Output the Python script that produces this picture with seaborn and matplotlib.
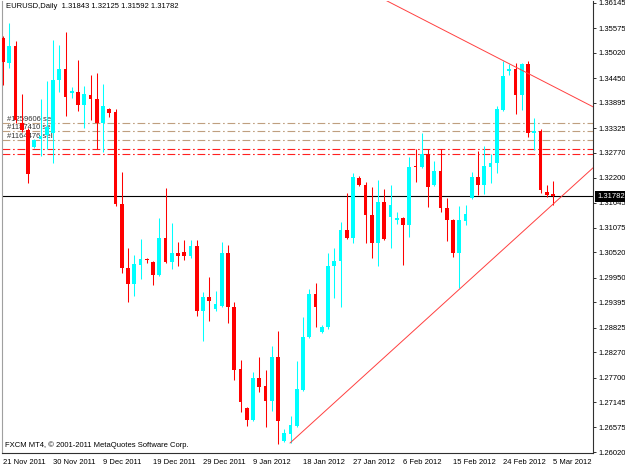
import numpy as np
import pandas as pd
import matplotlib
matplotlib.use("Agg")
import matplotlib.pyplot as plt
import matplotlib.transforms as mtransforms
import seaborn as sns

# daily EURUSD bars, bar 0 = 21 Nov 2011 (FXCM feed, sunday bars included)
opens = [1.3536, 1.3479, 1.3518, 1.3344, 1.3328, 1.3290, 1.3308, 1.3317, 1.3321, 1.3441,
         1.3466, 1.3412, 1.3414, 1.3385, 1.3407, 1.3398, 1.3344, 1.3375, 1.3369, 1.3161,
         1.3017, 1.2981, 1.3024, 1.3036, 1.3031, 1.3001, 1.3085, 1.3031, 1.3051, 1.3053,
         1.3044, 1.3067, 1.2920, 1.2952, 1.2924, 1.2931, 1.3051, 1.2929, 1.2789, 1.2701,
         1.2674, 1.2769, 1.2751, 1.2717, 1.2816, 1.2627, 1.2643, 1.2661, 1.2742, 1.2861,
         1.2958, 1.2873, 1.2884, 1.3021, 1.3033, 1.3103, 1.3085, 1.3220, 1.3204, 1.3136,
         1.3073, 1.3166, 1.3132, 1.3125, 1.3129, 1.3114, 1.3247, 1.3245, 1.3274, 1.3204,
         1.3236, 1.3152, 1.3125, 1.3051, 1.3123, 1.3175, 1.3222, 1.3204, 1.3245, 1.3254,
         1.3373, 1.3461, 1.3466, 1.3407, 1.3477, 1.3321, 1.3326, 1.3188, 1.31843]
highs = [1.3540, 1.3569, 1.3529, 1.3409, 1.3333, 1.3308, 1.3398, 1.3439, 1.3531, 1.3520,
         1.3549, 1.3425, 1.3486, 1.3427, 1.3452, 1.3457, 1.3432, 1.3378, 1.3375, 1.3233,
         1.3062, 1.3046, 1.3082, 1.3040, 1.3033, 1.3130, 1.3197, 1.3118, 1.3076, 1.3080,
         1.3080, 1.3080, 1.2963, 1.2997, 1.2966, 1.3076, 1.3069, 1.2940, 1.2810, 1.2703,
         1.2782, 1.2816, 1.2787, 1.2841, 1.2875, 1.2654, 1.2683, 1.2807, 1.2906, 1.2969,
         1.2983, 1.2888, 1.3051, 1.3062, 1.3121, 1.3186, 1.3231, 1.3224, 1.3211, 1.3200,
         1.3215, 1.3195, 1.3204, 1.3143, 1.3131, 1.3267, 1.3285, 1.3321, 1.3285, 1.3258,
         1.3285, 1.3175, 1.3127, 1.3157, 1.3159, 1.3233, 1.3281, 1.3292, 1.3274, 1.3382,
         1.3484, 1.3477, 1.3479, 1.3479, 1.3484, 1.3355, 1.3330, 1.3204, 1.32125]
lows = [1.3430, 1.3468, 1.3344, 1.3324, 1.3209, 1.3288, 1.3270, 1.3285, 1.3254, 1.3414,
        1.3360, 1.3400, 1.3371, 1.3333, 1.3351, 1.3285, 1.3279, 1.3357, 1.3157, 1.3006,
        1.2940, 1.2954, 1.2992, 1.3028, 1.2979, 1.2999, 1.3029, 1.3015, 1.3021, 1.3035,
        1.3040, 1.2909, 1.2852, 1.2897, 1.2920, 1.2929, 1.2893, 1.2764, 1.2692, 1.2661,
        1.2672, 1.2737, 1.2658, 1.2694, 1.2620, 1.2624, 1.2622, 1.2659, 1.2740, 1.2859,
        1.2884, 1.2871, 1.2880, 1.2949, 1.2929, 1.3083, 1.3073, 1.3202, 1.3073, 1.3040,
        1.3021, 1.3080, 1.3062, 1.3116, 1.3024, 1.3087, 1.3211, 1.3243, 1.3154, 1.3202,
        1.3143, 1.3078, 1.3042, 1.2972, 1.3114, 1.3173, 1.3182, 1.3184, 1.3209, 1.3231,
        1.3371, 1.3452, 1.3364, 1.3373, 1.3312, 1.3283, 1.3186, 1.3177, 1.31592]
closes = [1.3481, 1.3518, 1.3351, 1.3328, 1.3229, 1.3306, 1.3315, 1.3335, 1.3441, 1.3466,
          1.3403, 1.3416, 1.3385, 1.3409, 1.3398, 1.3344, 1.3382, 1.3366, 1.3161, 1.3017,
          1.2981, 1.3026, 1.3037, 1.3034, 1.3001, 1.3085, 1.3031, 1.3051, 1.3044, 1.3044,
          1.3067, 1.2920, 1.2952, 1.2943, 1.2936, 1.3051, 1.2929, 1.2787, 1.2715, 1.2674,
          1.2769, 1.2749, 1.2717, 1.2816, 1.2672, 1.2645, 1.2663, 1.2744, 1.2861, 1.2958,
          1.2929, 1.2884, 1.3021, 1.3033, 1.3103, 1.3085, 1.3222, 1.3204, 1.3136, 1.3073,
          1.3166, 1.3082, 1.3159, 1.3129, 1.3114, 1.3245, 1.3244, 1.3274, 1.3200, 1.3236,
          1.3152, 1.3125, 1.3051, 1.3125, 1.3139, 1.3222, 1.3204, 1.3247, 1.3254, 1.3375,
          1.3450, 1.3466, 1.3407, 1.3477, 1.3321, 1.3326, 1.3193, 1.3182, 1.31782]

date_ticks = [0, 8, 16, 24, 32, 40, 48, 56, 64, 72, 80, 88]
date_labels = ["21 Nov 2011", "30 Nov 2011", "9 Dec 2011", "19 Dec 2011", "29 Dec 2011",
               "9 Jan 2012", "18 Jan 2012", "27 Jan 2012", "6 Feb 2012", "15 Feb 2012",
               "24 Feb 2012", "5 Mar 2012"]
price_ticks = [1.36145, 1.35575, 1.35020, 1.34450, 1.33895, 1.33325, 1.32770, 1.32200,
               1.31645, 1.31075, 1.30520, 1.29950, 1.29395, 1.28825, 1.28270, 1.27700,
               1.27145, 1.26575, 1.26020]

# open orders and their stop lines
order_names = ["#1259606 sell", "#1187410 sell", "#1164476 sell"]
order_prices = [1.33428, 1.33248, 1.33045]
stop_prices = [1.32853, 1.32740]
bid = 1.31782

# trend lines, two anchors each (bar, price)
down_bars = [73.6, 90.72]
down_prices = [1.35311, 1.34071]
up_bars = [45.92, 85.92]
up_prices = [1.26223, 1.31342]

header = "EURUSD,Daily  1.31843 1.32125 1.31592 1.31782"
footer = "FXCM MT4, \u00a9 2001-2011 MetaQuotes Software Corp."

sns.set_style("white")
plt.rcParams['font.family'] = ['Liberation Sans', 'DejaVu Sans']
fs = 5.5

df = pd.DataFrame({'open': opens, 'high': highs, 'low': lows, 'close': closes})
df['bar'] = np.arange(len(df))
colors = np.where(df['close'] >= df['open'], '#00FFFF', '#FF0000')

fig = plt.figure(figsize=(6.25, 4.69), dpi=100)
ax = fig.add_axes([2/625, 16/469, 591/625, 452/469])

# candles
ax.vlines(df['bar'], df['low'], df['high'], colors=colors, lw=0.75, zorder=3)
body = (df['close'] - df['open']).abs().clip(lower=0.00022)
bottom = df[['open', 'close']].min(axis=1)
ax.bar(df['bar'], body, bottom=bottom, width=0.6, color=colors, lw=0, zorder=4)

# order lines
dashdot = (0, (7, 2.5, 1.5, 2.5))
for name, p in zip(order_names, order_prices):
    ax.axhline(p, color='#BF9F7F', lw=0.8, ls=dashdot, zorder=1)
    ax.text(0.6, p + 0.00018, name, fontsize=fs, color='#333333', va='bottom', ha='left', zorder=2)
for p in stop_prices:
    ax.axhline(p, color='#FF2020', lw=0.8, ls=dashdot, zorder=1)

ax.axhline(bid, color='black', lw=0.8, zorder=2.5)

# trend lines as rays
def ray(bx, py, x0, x1):
    slope = (py[1] - py[0]) / (bx[1] - bx[0])
    xs = np.array([x0, x1])
    return xs, py[0] + slope * (xs - bx[0])

xs, ys = ray(down_bars, down_prices, 50, 100)
sns.lineplot(x=xs, y=ys, color='#FF4040', lw=0.7, ax=ax, estimator=None, sort=False, zorder=5)
xs, ys = ray(up_bars, up_prices, up_bars[0], 100)
sns.lineplot(x=xs, y=ys, color='#FF4040', lw=0.7, ax=ax, estimator=None, sort=False, zorder=5)

ax.set_xlim(-0.16, 94.4)
ax.set_ylim(1.25998, 1.36190)

ax.yaxis.tick_right()
ax.set_yticks(price_ticks)
ax.set_yticklabels([f"{v:.5f}" for v in price_ticks])
ax.set_xticks(date_ticks)
ax.set_xticklabels(date_labels, ha='left')
ax.tick_params(axis='both', length=2.5, width=0.7, color='#303030', labelsize=fs, pad=1.5,
               labelcolor='black')
ax.tick_params(axis='y', left=False, right=True)
ax.set_xlabel('')
ax.set_ylabel('')

ax.spines['top'].set_visible(False)
ax.spines['left'].set_color('#A0A0A0')
ax.spines['right'].set_color('#303030')
ax.spines['bottom'].set_color('#303030')
for s in ['left', 'right', 'bottom']:
    ax.spines[s].set_linewidth(0.8)

# bid price box on the price scale
trans = mtransforms.blended_transform_factory(ax.transAxes, ax.transData)
ax.text(1.0 + 4/591, bid, f"{bid:.5f}", transform=trans, fontsize=fs, color='white',
        va='center', ha='left', clip_on=False, zorder=10,
        bbox=dict(boxstyle='square,pad=0.3', fc='black', ec='none'))

fig.text(6/625, 1 - 7/469, header, fontsize=fs, va='center', ha='left', color='black')
fig.text(5/625, 1 - 445/469, footer, fontsize=fs, va='center', ha='left', color='black')

fig.savefig('out.png', dpi=100)
